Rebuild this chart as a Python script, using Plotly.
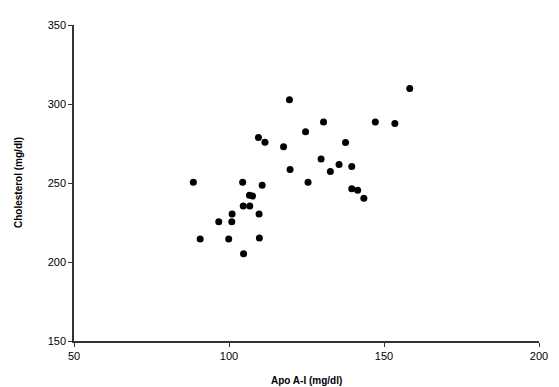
import plotly.graph_objects as go

apo_a1 = [88.5, 104.4, 110.7, 119.7, 106.6, 107.6, 104.6, 106.7, 101.0, 109.7,
          96.7, 100.9, 90.7, 99.9, 109.8, 104.7, 119.5, 158.3, 130.5, 147.2,
          153.5, 124.7, 117.6, 137.6, 129.7, 135.5, 139.6, 132.7, 125.5, 139.6,
          141.5, 143.5, 109.5, 111.6]
cholesterol = [250.4, 250.4, 248.6, 258.5, 242.3, 241.7, 235.4, 235.4, 230.4, 230.4,
               225.4, 225.4, 214.6, 214.6, 215.2, 205.2, 302.7, 309.8, 288.6, 288.6,
               287.7, 282.5, 272.9, 275.6, 265.2, 261.7, 260.4, 257.3, 250.4, 246.4,
               245.4, 240.4, 278.8, 275.8]

x_ticks = [50, 100, 150, 200]
y_ticks = [150, 200, 250, 300, 350]

fig = go.Figure()
fig.add_trace(go.Scatter(
    x=apo_a1, y=cholesterol, mode="markers",
    marker=dict(color="black", size=7, line=dict(width=0)),
    showlegend=False, hoverinfo="skip"))

axis_common = dict(showgrid=False, zeroline=False, showline=True, linecolor="#333",
                   linewidth=1.5, ticks="outside", ticklen=4, tickcolor="#333",
                   tickfont=dict(family="Liberation Sans, Arial", size=11, color="black"))

fig.update_xaxes(range=[50, 200], tickvals=x_ticks, **axis_common)
fig.update_yaxes(range=[150, 350], tickvals=y_ticks, **axis_common)

# page body has an 8px margin, so the figure is offset by (8, 8)
fig.update_layout(
    width=551, height=379,
    margin=dict(l=66, r=11, t=12, b=46),
    plot_bgcolor="white", paper_bgcolor="white",
    font=dict(family="Liberation Sans, Arial", color="black"),
    annotations=[
        dict(text="<b>Apo A-I (mg/dl)</b>", xref="paper", yref="paper", x=0.5, y=0,
             xanchor="center", yanchor="middle", yshift=-39, showarrow=False,
             font=dict(size=10)),
        dict(text="<b>Cholesterol (mg/dl)</b>", xref="paper", yref="paper", x=0, y=0.5,
             xanchor="center", yanchor="middle", xshift=-56, textangle=-90,
             showarrow=False, font=dict(size=10)),
    ],
)

fig.write_html("out.html")
